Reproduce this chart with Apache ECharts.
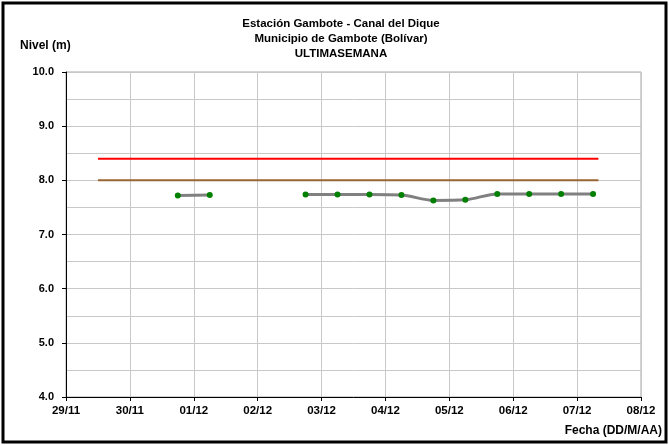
<!DOCTYPE html>
<html><head><meta charset="utf-8">
<script src="https://cdn.jsdelivr.net/npm/echarts@6/dist/echarts.min.js"></script>
<style>html,body{margin:0;padding:0;background:#fff}#c{width:669px;height:445px}</style>
</head><body><div id="c"></div>
<script>
// Data
const obsTimes = ["2020-11-30 18:00","2020-12-01 06:00","2020-12-01 18:00","2020-12-02 06:00","2020-12-02 18:00","2020-12-03 06:00","2020-12-03 18:00","2020-12-04 06:00","2020-12-04 18:00","2020-12-05 06:00","2020-12-05 18:00","2020-12-06 06:00","2020-12-06 18:00","2020-12-07 06:00"];
const obsLevels = [7.72, 7.73, null, null, 7.74, 7.74, 7.74, 7.73, 7.63, 7.64, 7.75, 7.75, 7.75, 7.75];
const refTimes = ["2020-11-29 12:00","2020-12-07 08:00"];
const redLevel = [8.4, 8.4];
const brownLevel = [8.0, 8.0];
const xStart = "2020-11-29 00:00", xEnd = "2020-12-08 00:00";
const yMin = 4, yMax = 10;

function ts(s){const [d,t]=s.split(' ');const [Y,M,D]=d.split('-').map(Number);const [h,m]=t.split(':').map(Number);return Date.UTC(Y,M-1,D,h,m);}
const DAY = 86400000;
const pad = n => String(n).padStart(2,'0');

const chart = echarts.init(document.getElementById('c'), null, {renderer:'canvas'});
const font = 'Liberation Sans, Arial, sans-serif';
chart.setOption({
  animation:false,
  backgroundColor:'#fff',
  textStyle:{fontFamily:font},
  title:{
    text:'Estación Gambote - Canal del Dique\nMunicipio de Gambote (Bolívar)\nULTIMASEMANA',
    left:336, top:11, textAlign:'center',
    textStyle:{fontSize:11.5, fontWeight:'bold', color:'#000', lineHeight:15, fontFamily:font}
  },
  graphic:[
    {type:'rect', shape:{x:3,y:3,width:663,height:439}, style:{fill:'none', stroke:'#000', lineWidth:3}, z:100},
    {type:'text', left:20, top:40, style:{text:'Nivel (m)', font:'bold 12px '+font, fill:'#000'}},
    {type:'text', right:7, top:425, style:{text:'Fecha (DD/M/AA)', font:'bold 12px '+font, fill:'#000'}}
  ],
  grid:{left:66, top:72, right:28, bottom:48, show:true, borderColor:'#a6a6a6', borderWidth:1},
  xAxis:{
    type:'value', min:ts(xStart), max:ts(xEnd), interval:DAY,
    axisLine:{lineStyle:{color:'#000', width:1}},
    axisTick:{show:true, length:4, lineStyle:{color:'#000'}},
    splitLine:{show:true, lineStyle:{color:'#c8c8c8', width:1}},
    axisLabel:{color:'#000', fontWeight:'bold', fontSize:11.5, margin:8, fontFamily:font,
      formatter:v=>{const d=new Date(v);return pad(d.getUTCDate())+'/'+pad(d.getUTCMonth()+1);}}
  },
  yAxis:{
    type:'value', min:yMin, max:yMax, interval:1,
    axisLine:{show:true, lineStyle:{color:'#000', width:1}},
    axisTick:{show:true, length:4, lineStyle:{color:'#000'}},
    splitLine:{show:true, lineStyle:{color:'#c8c8c8', width:1}},
    minorTick:{show:false, splitNumber:2},
    minorSplitLine:{show:true, lineStyle:{color:'#c8c8c8', width:1}},
    axisLabel:{color:'#000', fontWeight:'bold', fontSize:11, margin:12, fontFamily:font,
      formatter:v=>v.toFixed(1)}
  },
  series:[
    {type:'line', data:refTimes.map((t,i)=>[ts(t),redLevel[i]]), showSymbol:false, symbol:'none',
      lineStyle:{color:'#ff0000', width:2}, z:2},
    {type:'line', data:refTimes.map((t,i)=>[ts(t),brownLevel[i]]), showSymbol:false, symbol:'none',
      lineStyle:{color:'#996633', width:2}, z:2},
    {type:'line', data:obsTimes.map((t,i)=>[ts(t),obsLevels[i]]), smooth:0.3, connectNulls:false,
      symbol:'circle', symbolSize:6, itemStyle:{color:'#008000', borderWidth:0},
      lineStyle:{color:'#808080', width:3}, z:3}
  ]
});
</script></body></html>
